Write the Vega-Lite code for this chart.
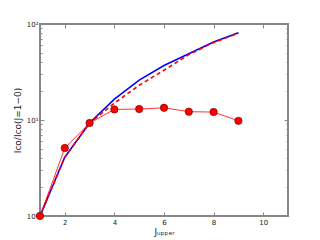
{
  "$schema": "https://vega.github.io/schema/vega-lite/v6.json",
  "width": 248,
  "height": 192,
  "autosize": {"type": "none"},
  "padding": {"left": 40, "top": 24, "right": 32, "bottom": 24},
  "background": "white",
  "config": {
    "view": {"stroke": "#888888", "strokeWidth": 2},
    "axis": {"domain": false, "grid": false, "labelFont": "DejaVu Sans", "titleFont": "DejaVu Sans", "labelFontSize": 7, "titleFontSize": 9, "titleFontWeight": "normal", "labelColor": "#222222", "titleColor": "#222222", "tickColor": "#888888", "tickWidth": 1}
  },
  "datasets": {
    "lines": [
      {"series": "blue", "j": 1, "r": 1.0},
      {"series": "blue", "j": 2, "r": 4.1},
      {"series": "blue", "j": 3, "r": 9.3},
      {"series": "blue", "j": 4, "r": 16.5},
      {"series": "blue", "j": 5, "r": 26},
      {"series": "blue", "j": 6, "r": 37},
      {"series": "blue", "j": 7, "r": 49},
      {"series": "blue", "j": 8, "r": 65},
      {"series": "blue", "j": 9, "r": 81},
      {"series": "dash", "j": 1, "r": 1.0},
      {"series": "dash", "j": 2, "r": 4.1},
      {"series": "dash", "j": 3, "r": 9.3},
      {"series": "dash", "j": 4, "r": 15},
      {"series": "dash", "j": 5, "r": 23},
      {"series": "dash", "j": 6, "r": 33},
      {"series": "dash", "j": 7, "r": 48},
      {"series": "dash", "j": 8, "r": 64},
      {"series": "dash", "j": 9, "r": 80}
    ],
    "dots": [
      {"j": 1, "r": 1.0},
      {"j": 2, "r": 5.1},
      {"j": 3, "r": 9.3},
      {"j": 4, "r": 12.9},
      {"j": 5, "r": 13.0},
      {"j": 6, "r": 13.4},
      {"j": 7, "r": 12.2},
      {"j": 8, "r": 12.1},
      {"j": 9, "r": 9.8}
    ]
  },
  "layer": [
    {
      "data": {"name": "lines"},
      "transform": [{"filter": "datum.series == 'blue'"}],
      "mark": {"type": "line", "color": "#0000ff", "strokeWidth": 1.6, "clip": true},
      "encoding": {
        "x": {"field": "j", "type": "quantitative", "scale": {"domain": [1, 11], "nice": false, "zero": false},
          "axis": {"orient": "bottom", "values": [2, 4, 6, 8, 10], "tickSize": -4, "labelPadding": 6, "title": "Jᵤₚₚₑᵣ", "titlePadding": 2}},
        "y": {"field": "r", "type": "quantitative", "scale": {"type": "log", "domain": [1, 100], "nice": false},
          "axis": {"orient": "left", "values": [1, 2, 3, 4, 5, 6, 7, 8, 9, 10, 20, 30, 40, 50, 60, 70, 80, 90, 100],
            "labelExpr": "datum.value == 1 ? '10⁰' : datum.value == 10 ? '10¹' : datum.value == 100 ? '10²' : ''",
            "tickSize": {"condition": {"test": "datum.value == 1 || datum.value == 10 || datum.value == 100", "value": -4}, "value": -2},
            "labelPadding": 6, "title": "Iᴄᴏ/Iᴄᴏ(J=1−0)", "titlePadding": 4}}
      }
    },
    {
      "data": {"name": "lines"},
      "transform": [{"filter": "datum.series == 'dash'"}],
      "mark": {"type": "line", "color": "#ff0000", "strokeWidth": 1.6, "strokeDash": [4, 3], "clip": true},
      "encoding": {
        "x": {"field": "j", "type": "quantitative", "scale": {"domain": [1, 11], "nice": false, "zero": false},
          "axis": {"orient": "top", "values": [2, 4, 6, 8, 10], "tickSize": -4, "labels": false, "title": null}},
        "y": {"field": "r", "type": "quantitative", "scale": {"type": "log", "domain": [1, 100], "nice": false},
          "axis": {"orient": "right", "values": [1, 2, 3, 4, 5, 6, 7, 8, 9, 10, 20, 30, 40, 50, 60, 70, 80, 90, 100],
            "tickSize": {"condition": {"test": "datum.value == 1 || datum.value == 10 || datum.value == 100", "value": -4}, "value": -2},
            "labels": false, "title": null}}
      }
    },
    {
      "data": {"name": "dots"},
      "mark": {"type": "line", "color": "#ff0000", "strokeWidth": 0.8, "point": {"filled": true, "fill": "#ff0000", "stroke": "#660000", "strokeWidth": 0.6, "size": 55}, "clip": false},
      "encoding": {
        "x": {"field": "j", "type": "quantitative", "scale": {"domain": [1, 11], "nice": false, "zero": false}, "axis": null},
        "y": {"field": "r", "type": "quantitative", "scale": {"type": "log", "domain": [1, 100], "nice": false}, "axis": null}
      }
    }
  ],
  "resolve": {"axis": {"x": "independent", "y": "independent"}}
}
